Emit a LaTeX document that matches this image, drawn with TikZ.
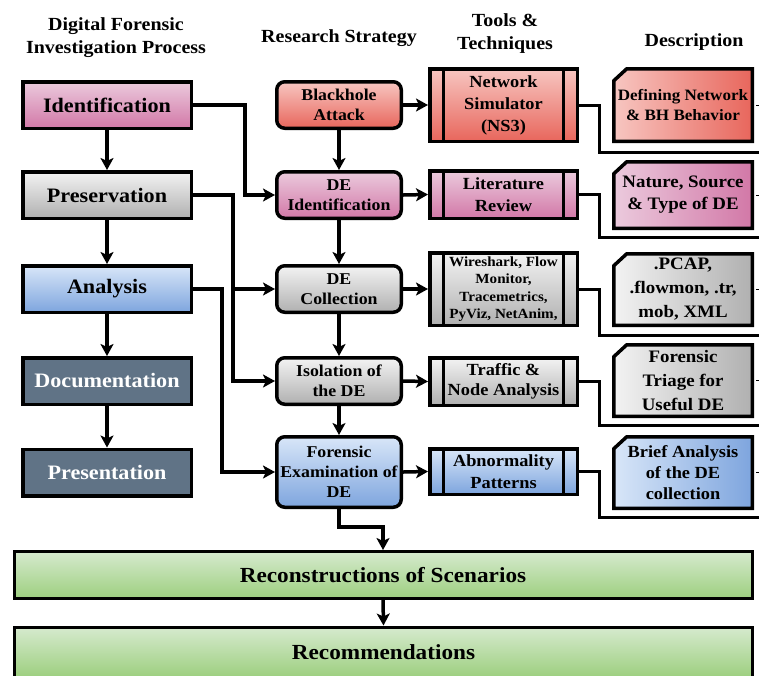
\documentclass[tikz,border=0pt]{standalone}
\usepackage{fontspec}
\setmainfont{Liberation Serif}[FakeStretch=1.08]
\usetikzlibrary{arrows.meta,backgrounds}
\pgfdeclarelayer{bottom}
\pgfsetlayers{bottom,background,main}
\definecolor{redT}{HTML}{F7C6C1}
\definecolor{redB}{HTML}{E8665C}
\definecolor{pinkT}{HTML}{EBCADD}
\definecolor{pinkB}{HTML}{D278A7}
\definecolor{grayT}{HTML}{F3F3F3}
\definecolor{grayB}{HTML}{B0B0B0}
\definecolor{blueT}{HTML}{D8E6F8}
\definecolor{blueB}{HTML}{7EA5DE}
\definecolor{slate}{HTML}{607386}
\definecolor{grT}{HTML}{D6EACE}
\definecolor{grB}{HTML}{9DCF7F}
\tikzset{
  base/.style={draw=black, line width=3.5pt, inner sep=0pt, align=center},
  leftbox/.style={base, rectangle, minimum width=168.5pt, minimum height=46.5pt,
    font=\bfseries\fontsize{20.5}{24}\selectfont},
  resbox/.style={base, rectangle, rounded corners=8pt, minimum width=124.5pt,
    minimum height=46.5pt, font=\bfseries\fontsize{16.5}{20}\selectfont},
  toolbox/.style={base, rectangle, minimum width=147.5pt,
    font=\bfseries\fontsize{17}{22}\selectfont,
    path picture={
      \draw[line width=3pt] ([xshift=14pt]path picture bounding box.north west) -- ([xshift=14pt]path picture bounding box.south west);
      \draw[line width=3pt] ([xshift=-14pt]path picture bounding box.north east) -- ([xshift=-14pt]path picture bounding box.south east);}},
  descbox/.style={rectangle, inner sep=0pt, outer sep=0pt, align=center, minimum width=138.5pt},
  chamfer/.style={line width=3.5pt, draw=black},
  greenbox/.style={base, rectangle, line width=3pt, minimum width=738pt, minimum height=47pt,
    top color=grT, bottom color=grB, font=\bfseries\fontsize{21.5}{25}\selectfont},
  header/.style={align=center, font=\bfseries\fontsize{18.5}{23}\selectfont},
  arr/.style={line width=3.5pt, -{Stealth[length=12pt,width=13pt,inset=3pt]}},
  outl/.style={line width=3pt},
  tick/.style={line width=1pt},
}
\newcommand\chamfbox[3]{%
  \begin{pgfonlayer}{background}
  \draw[chamfer, left color=#2, right color=#3]
    ([xshift=13pt]#1.north west) -- (#1.north east) -- (#1.south east)
    -- (#1.south west) -- ([yshift=-12pt]#1.north west) -- cycle;
  \end{pgfonlayer}}
\begin{document}
\begin{tikzpicture}[x=1pt,y=-1pt]
\useasboundingbox (0,0) rectangle (759,675);
\clip (0,0) rectangle (759,675);
\begin{pgfonlayer}{bottom}
\fill[white] (0,0) rectangle (759,675);
\end{pgfonlayer}

% headers
\node[header] (h1) at (116,38) {Digital Forensic\\Investigation Process};
\node[header] (h2) at (339,38) {Research Strategy};
\node[header] (h3) at (505,34) {Tools \&\\Techniques};
\node[header] (h4) at (694,42) {Description};

% left column
\node[leftbox, top color=pinkT, bottom color=pinkB] (idf) at (107,105) {Identification};
\node[leftbox, top color=grayT, bottom color=grayB] (pres) at (107,195) {Preservation};
\node[leftbox, top color=blueT, bottom color=blueB] (ana) at (107,289) {Analysis};
\node[leftbox, fill=slate, text=white] (doc) at (107,381) {Documentation};
\node[leftbox, fill=slate, text=white] (prs) at (107,472.5) {Presentation};

% research strategy
\node[resbox, top color=redT, bottom color=redB] (bh) at (339,105) {Blackhole\\Attack};
\node[resbox, top color=pinkT, bottom color=pinkB] (dei) at (339,195) {DE\\Identification};
\node[resbox, top color=grayT, bottom color=grayB] (dec) at (339,289) {DE\\Collection};
\node[resbox, top color=grayT, bottom color=grayB] (iso) at (339,381) {Isolation of\\the DE};
\node[resbox, top color=blueT, bottom color=blueB, minimum height=70.5pt] (fe) at (339,472) {Forensic\\Examination of\\DE};

% tools
\node[toolbox, top color=redT, bottom color=redB, minimum height=72.5pt] (ns) at (503.5,105) {Network\\Simulator\\(NS3)};
\node[toolbox, top color=pinkT, bottom color=pinkB, minimum height=47.5pt] (lr) at (503.5,194.5) {Literature\\Review};
\node[toolbox, top color=grayT, bottom color=grayB, minimum height=72.5pt,
      font=\bfseries\fontsize{14}{17.5}\selectfont] (ws) at (503.5,289) {Wireshark, Flow\\Monitor,\\Tracemetrics,\\PyViz, NetAnim,};
\node[toolbox, top color=grayT, bottom color=grayB, minimum height=47.5pt,
      font=\bfseries\fontsize{17}{20}\selectfont] (tr) at (503.5,381.5) {Traffic \&\\Node Analysis};
\node[toolbox, top color=blueT, bottom color=blueB, minimum height=45.5pt] (ab) at (503.5,471.5) {Abnormality\\Patterns};

% descriptions
\node[descbox, minimum height=72.5pt,
      font=\bfseries\fontsize{15.8}{19.5}\selectfont] (d1) at (683,105) {Defining Network\\\& BH Behavior};
\chamfbox{d1}{redT}{redB}
\node[descbox, minimum height=66.5pt,
      font=\bfseries\fontsize{17.5}{22}\selectfont] (d2) at (683,195) {Nature, Source\\\& Type of DE};
\chamfbox{d2}{pinkT}{pinkB}
\node[descbox, minimum height=71.5pt,
      font=\bfseries\fontsize{17.5}{24}\selectfont] (d3) at (683,289.5) {.PCAP,\\.flowmon, .tr,\\mob, XML};
\chamfbox{d3}{grayT}{grayB}
\node[descbox, minimum height=71.5pt,
      font=\bfseries\fontsize{17.5}{24}\selectfont] (d4) at (683,380.5) {Forensic\\Triage for\\Useful DE};
\chamfbox{d4}{grayT}{grayB}
\node[descbox, minimum height=71.5pt,
      font=\bfseries\fontsize{17}{21}\selectfont] (d5) at (683,472.5) {Brief Analysis\\of the DE\\collection};
\chamfbox{d5}{blueT}{blueB}

% green
\node[greenbox] (rec) at (383,575) {Reconstructions of Scenarios};
\node[greenbox, minimum height=50pt] (recm) at (383.5,652) {Recommendations};

% left vertical arrows
\draw[arr] (idf.south) -- (pres.north);
\draw[arr] (pres.south) -- (ana.north);
\draw[arr] (ana.south) -- (doc.north);
\draw[arr] (doc.south) -- (prs.north);

% left to research
\draw[arr] (idf.east) -- ++(52,0) |- (dei.west);
\draw[arr] (pres.east) -- ++(40,0) |- (iso.west);
\draw[arr] (pres.east) ++(40,0) |- (dec.west);
\draw[arr] (ana.east) -- ++(29,0) |- (fe.west);

% research vertical
\draw[arr] (bh.south) -- (dei.north);
\draw[arr] (dei.south) -- (dec.north);
\draw[arr] (dec.south) -- (iso.north);
\draw[arr] (iso.south) -- (fe.north);
\draw[arr] (fe.south) -- ++(0,18) -| (rec.north);
\draw[arr] (rec.south) -- (recm.north);

% research to tools
\draw[arr] (bh.east) -- (ns.west);
\draw[arr] (dei.east) -- (lr.west);
\draw[arr] (dec.east) -- (ws.west);
\draw[arr] (iso.east) -- (tr.west);
\draw[arr] (fe.east) -- (ab.west);

% tools to the right edge
\coordinate (e1) at (770,152);
\coordinate (e2) at (770,237);
\coordinate (e3) at (770,335);
\coordinate (e4) at (770,425);
\coordinate (e5) at (770,517);
\draw[outl] (ns.east) -- ++(20,0) |- (e1);
\draw[outl] (lr.east) -- ++(20,0) |- (e2);
\draw[outl] (ws.east) -- ++(20,0) |- (e3);
\draw[outl] (tr.east) -- ++(20,0) |- (e4);
\draw[outl] (ab.east) -- ++(20,0) |- (e5);

% ticks at right of descriptions
\foreach \d in {d1,d2,d3,d4,d5}{
  \draw[tick] ([xshift=4pt]\d.east) -- ++(8,0);
}
\end{tikzpicture}
\end{document}
